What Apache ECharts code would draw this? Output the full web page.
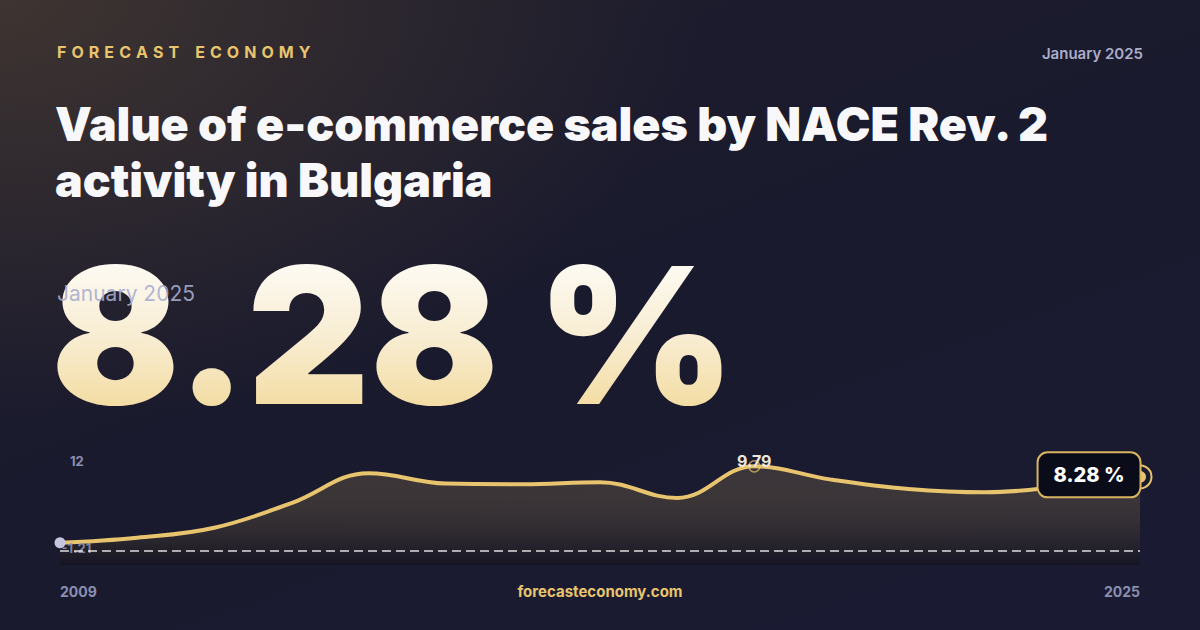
<!DOCTYPE html>
<html>
<head>
<meta charset="utf-8">
<script src="https://cdn.jsdelivr.net/npm/echarts@6/dist/echarts.min.js"></script>
<style>
html,body{margin:0;padding:0;width:1200px;height:630px;overflow:hidden;}
#c{width:1200px;height:630px;
background:
 radial-gradient(ellipse 700px 420px at 0% 0%, rgba(84,68,52,0.6), rgba(80,66,52,0) 100%),
 linear-gradient(160deg,#1e1d2c 0%,#1a1a2e 50%,#1a1b33 100%);}
</style>
</head>
<body>
<div id="c"></div>
<script>
// ---- data ----
const years = ['2009','2010','2011','2012','2013','2014','2015','2016','2017','2018','2019','2020','2021','2023','2025'];
const values = [-1.21, -0.48, 0.96, 4.5, 8.8, 7.31, 7.21, 7.5, 5.24, 9.79, 7.88, 6.54, 6.06, 6.92, 8.28];
const brand = 'FORECAST ECONOMY';
const dateLabel = 'January 2025';
const titleLines = ['Value of e-commerce sales by NACE Rev. 2', 'activity in Bulgaria'];
const site = 'forecasteconomy.com';
const yTopLabel = '12';
const unit = '%';

const gold = '#e8c46e';
const last = values[values.length - 1];
const minV = Math.min(...values);
const maxV = Math.max(...values);
const bigText = last.toFixed(2) + ' ' + unit;
const spaced = s => s.split(' ').map(w => w.split('').join(' \u200A')).join('\u2002\u2002');

const chart = echarts.init(document.getElementById('c'), null, {renderer: 'svg'});
const font = 'Inter, "Noto Sans", sans-serif';
const bigFont = '900 190px ' + font;

chart.setOption({
  backgroundColor: 'transparent',
  animation: false,
  grid: {left: 60, right: 60, top: 451, bottom: 65},
  xAxis: {
    type: 'category', data: years, boundaryGap: false,
    axisLine: {show: false}, axisTick: {show: false}, splitLine: {show: false},
    axisLabel: {
      show: true, margin: 19, color: '#8a8fb0', fontSize: 14, fontWeight: 700, fontFamily: font,
      interval: (i) => i === 0 || i === years.length - 1,
      alignMinLabel: 'left', alignMaxLabel: 'right'
    }
  },
  yAxis: {
    type: 'value', min: -4.4, max: 12, show: false, splitLine: {show: false}
  },
  series: [{
    type: 'line',
    smooth: 0.4,
    symbol: 'none',
    data: values.map((v, i) => {
      if (i === 0) return {value: v, symbol: 'circle', symbolSize: 11, itemStyle: {color: '#c3c6dc'},
        label: {show: true, position: 'right', offset: [-9, 5], formatter: String(minV),
          color: 'rgba(145,150,182,0.85)', fontSize: 13, fontWeight: 700, fontFamily: font}};
      if (i === values.length - 1) return {value: v, symbol: 'circle', symbolSize: 12, itemStyle: {color: gold}};
      return v;
    }),
    lineStyle: {color: gold, width: 4},
    areaStyle: {
      origin: 'start',
      color: new echarts.graphic.LinearGradient(0, 0, 0, 1, [
        {offset: 0, color: 'rgba(232,196,110,0.22)'},
        {offset: 1, color: 'rgba(14,12,18,0.6)'}
      ])
    },
    markLine: {
      silent: true, symbol: 'none', label: {show: false},
      lineStyle: {color: 'rgba(255,255,255,0.85)', width: 1.5, type: [9, 5]},
      data: [{yAxis: -2.4}]
    },
    markPoint: {
      silent: true,
      data: [
        {coord: [values.indexOf(maxV), maxV],
          symbol: 'circle', symbolSize: 11,
          itemStyle: {color: 'transparent', borderColor: 'rgba(232,196,110,0.7)', borderWidth: 1.5},
          label: {show: true, position: 'inside', offset: [0, -5], formatter: maxV.toFixed(2),
            color: '#ece7dc', fontSize: 16, fontWeight: 700, fontFamily: font}},
        {coord: [years.length - 1, last], symbol: 'circle', symbolSize: 23,
          itemStyle: {color: 'transparent', borderColor: gold, borderWidth: 2},
          label: {show: true, position: 'left', distance: 0, offset: [12, -2],
            formatter: bigText,
            color: '#ffffff', fontSize: 20, fontWeight: 800, fontFamily: font,
            backgroundColor: '#0b0c1a', borderColor: '#d9b35f', borderWidth: 2, borderRadius: 9,
            padding: [12, 15, 11, 15]}}
      ]
    }
  }],
  graphic: [
    {type: 'text', left: 57, top: 44, style: {text: spaced(brand), fill: gold, font: '700 16px ' + font}},
    {type: 'text', right: 57, top: 46, style: {text: dateLabel, fill: '#a9adc9', font: '600 15px ' + font}},
    {type: 'text', left: 55, top: 96, style: {text: titleLines.join('\n'), fill: '#f8f8fb', font: '900 46.5px ' + font, lineHeight: 56}},
    {type: 'text', id: 'big', left: 51, top: 240, z: 1, style: {text: bigText, font: bigFont, fill: '#f8eccb',
      shadowColor: 'rgba(0,0,0,0.5)', shadowBlur: 26, shadowOffsetY: 10}},
    {type: 'text', left: 57, top: 283, z: 2, style: {text: dateLabel, fill: 'rgba(168,173,208,0.9)', font: '400 21px ' + font}},
    {type: 'text', left: 70, top: 454, style: {text: yTopLabel, fill: '#8a8fb0', font: '700 13px ' + font}},
    {type: 'text', left: 'center', top: 584, style: {text: site, fill: gold, font: '700 15px ' + font}}
  ]
});
chart.getZr().refreshImmediately();

// vertical cream-to-gold gradient for the headline value glyphs (SVG gradient on the rendered text)
(function () {
  const svg = document.querySelector('#c svg');
  if (!svg) return;
  const NS = 'http://www.w3.org/2000/svg';
  let defs = svg.querySelector('defs');
  if (!defs) { defs = document.createElementNS(NS, 'defs'); svg.insertBefore(defs, svg.firstChild); }
  const lg = document.createElementNS(NS, 'linearGradient');
  lg.setAttribute('id', 'bigGrad');
  lg.setAttribute('x1', '0'); lg.setAttribute('y1', '0.12');
  lg.setAttribute('x2', '0'); lg.setAttribute('y2', '0.9');
  [['0', '#fefdf9'], ['0.5', '#f8edd2'], ['1', '#f2d896']].forEach(([o, c]) => {
    const s = document.createElementNS(NS, 'stop');
    s.setAttribute('offset', o); s.setAttribute('stop-color', c);
    lg.appendChild(s);
  });
  defs.appendChild(lg);
  svg.querySelectorAll('text').forEach(t => {
    const st = (t.getAttribute('style') || '') + (t.getAttribute('font') || '');
    if (t.textContent === bigText && st.indexOf('190px') >= 0) {
      t.setAttribute('fill', 'url(#bigGrad)');
    }
  });
})();
</script>
</body>
</html>
